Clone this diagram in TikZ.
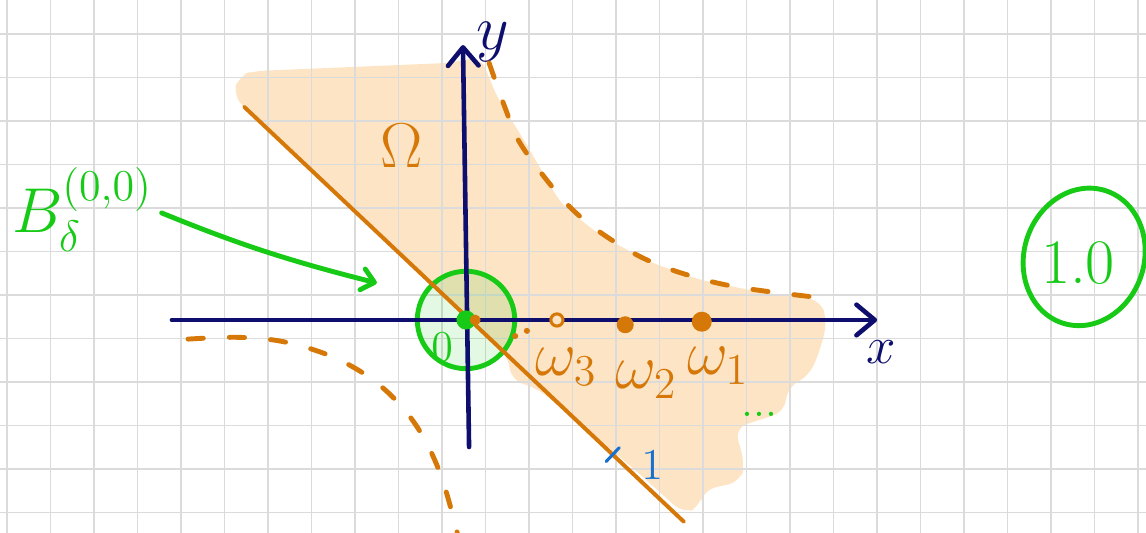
\documentclass[tikz,border=0pt]{standalone}
\usepackage{amsmath}
\usepackage{amssymb}
\usepackage{tikz}
\usetikzlibrary{calc, arrows.meta}
\usepackage{xcolor}

\definecolor{axisnavy}{RGB}{14,14,110}
\definecolor{omegaorange}{RGB}{214,120,8}
\definecolor{omegafill}{RGB}{253,228,196}
\definecolor{ballgreen}{RGB}{22,202,22}
\definecolor{tickblue}{RGB}{22,112,208}

\begin{document}
\begin{tikzpicture}[x=0.5cm, y=0.5cm, line cap=round, line join=round]

        % 1. Page limits and the squared paper
        \pgfmathsetmacro{\gridx}{0.444} % grid offset from the origin
        \pgfmathsetmacro{\gridy}{0.575}
        \useasboundingbox (-10.713,-4.897) rectangle (15.632,7.356);

        \coordinate (O) at (0,0);
        \coordinate (L1) at (-5.10,4.90);   % upper end of the boundary line
        \coordinate (L2) at (5.01,-4.64);   % lower end of the boundary line

        % 2. The region Omega (drawn under the grid)
        \fill[omegafill, rounded corners=4pt] (-5.36,5.17) -- (-5.22,5.62) -- (-4.9,5.72) -- (-0.37,5.91)
            -- (0.34,6.05) -- (0.71,5.13) -- (1.33,4.14) -- (1.93,3.10) -- (2.21,2.64) -- (3.08,1.95)
            -- (4.23,1.33) -- (5.38,0.92) -- (6.76,0.64) -- (8.14,0.46) -- (8.30,0.00) -- (8.18,-0.57)
            -- (7.91,-1.26) -- (7.38,-1.56) -- (7.33,-2.11) -- (6.18,-2.48) -- (6.41,-3.33) -- (6.30,-3.72)
            -- (5.45,-3.91) -- (5.38,-4.30) -- (5.0,-4.45) -- (4.0,-3.55) -- (2.6,-2.35) -- (1.6,-1.55)
            -- (1.05,-1.40) -- (0.95,-0.80) -- (0,0.09) -- (L1) -- cycle;

        \begin{scope}
            \clip (-10.713,-4.897) rectangle (15.632,7.356);
            \draw[black!14, line width=0.5pt, shift={(\gridx,\gridy)}] (-12,-6) grid[step=1] (16,7);
        \end{scope}

        % 3. The ball around the origin
        \node[circle, draw=ballgreen, line width=1.6pt, fill=ballgreen, fill opacity=0.12,
              minimum size=1.12cm, inner sep=0pt] (ball) at (O) {};

        % 4. Axes - navy
        \tikzset{axis/.style={axisnavy, line width=1.5pt, -{Straight Barb[length=6pt, width=10pt, round]}}}
        \coordinate (xstart) at (-6.76,0);
        \coordinate (xend) at (9.45,0);
        \coordinate (ystart) at (0.07,-2.92);
        \coordinate (yend) at (-0.07,6.32);
        \draw[axis] (xstart) -- (xend);
        \draw[axis] (ystart) -- (yend);
        \node[axisnavy, font=\LARGE] (xlab) at (9.54,-0.74) {$x$};
        \node[axisnavy, font=\huge, inner sep=1pt] (ylab) at (0.62,6.4) {$y$};

        % 5. Boundary line and the two dashed curves
        \draw[omegaorange, line width=1.3pt] (L1) -- (L2);
        \tikzset{dashcurve/.style={omegaorange, line width=1.6pt, dash pattern=on 5pt off 8.5pt}}
        \draw[dashcurve] plot[smooth, tension=0.6] coordinates {(0.53,5.91) (0.89,4.90) (1.24,4.07)
            (1.98,3.06) (2.53,2.46) (3.24,1.91) (4.16,1.38) (5.24,0.99) (6.34,0.74) (7.98,0.53)};
        \draw[dashcurve] plot[smooth, tension=0.6] coordinates {(-6.39,-0.44) (-5.2,-0.40) (-4.1,-0.52)
            (-2.95,-0.90) (-1.96,-1.52) (-1.17,-2.39) (-0.6,-3.51) (-0.2,-4.9)};

        % Unit mark on the line
        \coordinate (T) at ($(L1)!0.838!(L2)$);
        \draw[tickblue, line width=1pt] ($(T)!0.11cm!90:(L2)$) -- ($(T)!0.11cm!-90:(L2)$);
        \node[tickblue, font=\Large] (unit) at (4.28,-3.33) {$1$};

        % 6. Points on the x axis
        \tikzset{vertex/.style={circle, fill=omegaorange, inner sep=0pt}}
        \node[circle, fill=ballgreen, inner sep=0pt, minimum size=0.22cm] (center) at (O) {};
        \node[vertex, minimum size=0.125cm] (o) at (0.21,0) {};
        \node[vertex, draw=omegaorange, fill=omegafill, line width=1pt, minimum size=0.14cm] (w3) at (2.09,0) {};
        \node[vertex, minimum size=0.195cm] (w2) at (3.66,-0.11) {};
        \node[vertex, minimum size=0.23cm] (w1) at (5.42,-0.04) {};
        % the small dots before w3
        \fill[omegaorange] (1.13,-0.37) circle (0.07) (1.40,-0.25) circle (0.07);

        % Labels of the points
        \tikzset{wlabel/.style={omegaorange, font=\huge, inner sep=1pt}}
        \node[wlabel] (w3lab) at (2.30,-1.08) {$\omega_3$};
        \node[wlabel] (w2lab) at (4.14,-1.38) {$\omega_2$};
        \node[wlabel] (w1lab) at (5.79,-1.06) {$\omega_1$};
        \node[ballgreen, font=\Large, inner sep=0pt] (dotsright) at (6.75,-2.18) {...};
        \node[omegaorange, font=\huge] (Omegalab) at (-1.47,4.0) {$\Omega$};
        \node[ballgreen, font=\Large] (zerolab) at (-0.55,-0.62) {$0$};

        % 7. Name of the ball with its arrow
        \node[ballgreen, font=\huge, anchor=base west, inner sep=0pt] (Blab) at (-10.45,2.0) {$B^{(0,0)}_{\delta}$};
        \coordinate (arrtip) at (-2.05,0.85);
        \draw[ballgreen, line width=1.6pt, -{Straight Barb[length=4pt, width=7pt, round]}, shorten <=3pt]
            (Blab.east) to[bend right=4] (arrtip);

        % 8. Circled value on the right
        \node[ballgreen, font=\huge] (rate) at (14.07,1.31) {1.0};
        \draw[ballgreen, line width=1.6pt, rotate around={-18:(14.21,1.45)}] (14.21,1.45) ellipse (1.38 and 1.6);

    \end{tikzpicture}
\end{document}
